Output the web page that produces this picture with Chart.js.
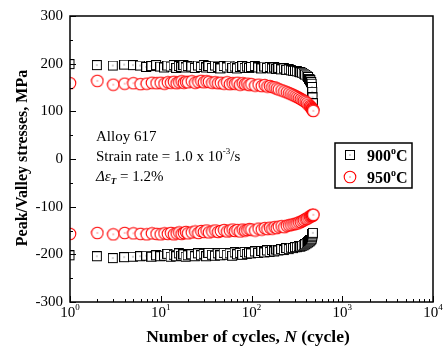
<!DOCTYPE html>
<html>
<head>
<meta charset="utf-8">
<script src="https://cdn.jsdelivr.net/npm/chart.js@4/dist/chart.umd.min.js"></script>
<style>
  html, body { margin: 0; padding: 0; background: #fff; }
  #chart { display: block; }
</style>
</head>
<body>
<canvas id="chart" width="447" height="351"></canvas>
<script>
// cycle numbers at which peak / valley stresses are plotted
const cycles = [1, 2, 3, 4, 5, 6, 7, 8, 9, 10,
  11, 12, 13, 14, 15, 16, 17, 18, 19, 20,
  22, 24, 26, 28, 30, 32, 34, 37, 40, 43,
  46, 50, 54, 58, 62, 66, 70, 75, 80, 85,
  90, 95, 100, 110, 120, 130, 140, 150, 160, 170,
  180, 190, 200, 215, 230, 245, 260, 275, 290, 305,
  320, 335, 350, 365, 380, 395, 410, 425, 440, 450,
  460, 465, 470, 473, 476, 480];

// 900 C peak (max) stress, MPa
const peak900 = [198, 196, 195, 197, 196, 195, 192, 194, 196, 193,
  191, 195, 193, 196, 190, 194, 192, 196, 191, 194,
  193, 190, 195, 192, 196, 191, 194, 190, 195, 192,
  189, 194, 191, 195, 190, 193, 189, 192, 194, 190,
  193, 190, 192, 194, 191, 189, 193, 190, 192, 189,
  191, 188, 190, 187, 189, 186, 187, 185, 184, 184,
  183, 182, 181, 180, 178, 176, 174, 171, 167, 164,
  160, 157, 150, 140, 128, 116];

// 900 C valley (min) stress, MPa
const valley900 = [-203, -205, -209, -207, -206, -205, -204, -206, -203, -205,
  -204, -200, -206, -202, -205, -199, -204, -201, -206, -203,
  -201, -205, -199, -203, -200, -205, -198, -202, -204, -199,
  -203, -198, -202, -199, -204, -197, -201, -198, -202, -196,
  -200, -197, -199, -195, -198, -194, -197, -193, -196, -192,
  -195, -191, -193, -190, -192, -188, -190, -187, -188, -186,
  -186, -184, -185, -183, -182, -180, -178, -176, -174, -172,
  -170, -168, -165, -162, -159, -156];

// 950 C peak (max) stress, MPa
const peak950 = [159, 164, 156, 158, 159, 157, 158, 160, 159, 160,
  158, 161, 160, 162, 159, 161, 163, 160, 162, 161,
  163, 160, 162, 164, 161, 163, 162, 160, 161, 159,
  160, 158, 161, 157, 159, 158, 160, 156, 159, 157,
  158, 155, 157, 154, 156, 153, 155, 152, 153, 151,
  150, 148, 146, 144, 142, 140, 138, 136, 134, 132,
  130, 128, 126, 124, 122, 120, 117, 114, 111, 109,
  107, 105, 104, 103, 102, 101];

// 950 C valley (min) stress, MPa
const valley950 = [-157, -155, -158, -155, -156, -157, -158, -156, -157, -158,
  -156, -157, -155, -158, -156, -154, -157, -155, -153, -156,
  -154, -152, -155, -151, -153, -150, -154, -152, -150, -153,
  -151, -149, -152, -150, -148, -151, -149, -152, -148, -150,
  -149, -147, -148, -150, -146, -148, -145, -147, -144, -146,
  -143, -145, -142, -141, -143, -140, -139, -138, -137, -136,
  -135, -133, -132, -130, -128, -126, -125, -123, -121, -120,
  -119, -119, -118, -118, -117, -117];

const yTicks = [-300, -200, -100, 0, 100, 200, 300];
const xDecades = [0, 1, 2, 3, 4];

const serif = '"Liberation Serif", "Times New Roman", serif';

// marker images: open square / open circle with a centre dot
function squareMarker() {
  const c = document.createElement("canvas");
  c.width = 11; c.height = 11;
  const g = c.getContext("2d");
  g.fillStyle = "#fff";
  g.fillRect(0, 0, 10, 10);
  g.strokeStyle = "#000";
  g.lineWidth = 1;
  g.strokeRect(0.5, 0.5, 9, 9);
  g.fillStyle = "#444";
  g.fillRect(4.5, 4.5, 1, 1);
  return c;
}
function circleMarker() {
  const c = document.createElement("canvas");
  c.width = 14; c.height = 14;
  const g = c.getContext("2d");
  g.beginPath();
  g.arc(7, 7, 5.8, 0, Math.PI * 2);
  g.fillStyle = "#fff";
  g.fill();
  g.strokeStyle = "#ff0000";
  g.lineWidth = 1.1;
  g.stroke();
  g.fillStyle = "#ff0000";
  g.fillRect(6.5, 6.5, 1, 1);
  return c;
}
const sq = squareMarker();
const ci = circleMarker();

function toPoints(ys) {
  return cycles.map((c, i) => ({ x: c, y: ys[i] }));
}

// draw a run of text pieces [text, font, dy] starting at x
function drawRuns(ctx, runs, x, y) {
  runs.forEach((r) => {
    ctx.font = r[1];
    ctx.fillText(r[0], x, y + (r[2] || 0));
    x += ctx.measureText(r[0]).width;
  });
  return x;
}
function runsWidth(ctx, runs) {
  let w = 0;
  runs.forEach((r) => {
    ctx.font = r[1];
    w += ctx.measureText(r[0]).width;
  });
  return w;
}

const decorPlugin = {
  id: "decor",
  afterDraw(chart) {
    const { ctx, chartArea: a, scales } = chart;
    const x = scales.x, y = scales.y;
    ctx.save();
    ctx.strokeStyle = "#000";
    ctx.fillStyle = "#000";

    // frame
    ctx.lineWidth = 1.5;
    ctx.strokeRect(a.left, a.top, a.right - a.left, a.bottom - a.top);

    // y ticks (inward)
    ctx.lineWidth = 1;
    ctx.beginPath();
    yTicks.forEach((v) => {
      const py = Math.round(y.getPixelForValue(v)) + 0.5;
      ctx.moveTo(a.left, py); ctx.lineTo(a.left + 6, py);
      if (v < 300) {
        const pm = Math.round(y.getPixelForValue(v + 50)) + 0.5;
        ctx.moveTo(a.left, pm); ctx.lineTo(a.left + 3, pm);
      }
    });
    // x ticks (inward)
    xDecades.forEach((d) => {
      const px = Math.round(x.getPixelForValue(Math.pow(10, d))) + 0.5;
      ctx.moveTo(px, a.bottom); ctx.lineTo(px, a.bottom - 6);
      if (d < 4) {
        for (let m = 2; m <= 9; m++) {
          const pm = Math.round(x.getPixelForValue(m * Math.pow(10, d))) + 0.5;
          ctx.moveTo(pm, a.bottom); ctx.lineTo(pm, a.bottom - 3);
        }
      }
    });
    ctx.stroke();

    // x tick labels 10^n
    ctx.textBaseline = "alphabetic";
    ctx.textAlign = "left";
    xDecades.forEach((d) => {
      const runs = [["10", "15px " + serif], [String(d), "9px " + serif, -7]];
      const w = runsWidth(ctx, runs);
      const px = x.getPixelForValue(Math.pow(10, d));
      drawRuns(ctx, runs, px - w / 2, 317);
    });

    // x title
    const xt = [
      ["Number of cycles, ", "bold 17.5px " + serif],
      ["N", "italic bold 17.5px " + serif],
      [" (cycle)", "bold 17.5px " + serif]
    ];
    drawRuns(ctx, xt, 248 - runsWidth(ctx, xt) / 2, 342);

    // y title
    ctx.save();
    ctx.translate(27, 158);
    ctx.rotate(-Math.PI / 2);
    ctx.font = "bold 16px " + serif;
    ctx.textAlign = "center";
    ctx.fillText("Peak/Valley stresses, MPa", 0, 0);
    ctx.restore();

    // annotation
    ctx.textAlign = "left";
    drawRuns(ctx, [["Alloy 617", "15px " + serif]], 96, 141);
    drawRuns(ctx, [
      ["Strain rate = 1.0 x 10", "15px " + serif],
      ["-3", "9px " + serif, -7],
      ["/s", "15px " + serif]
    ], 96, 161);
    drawRuns(ctx, [
      ["\u0394\u03b5", "italic 15px " + serif],
      ["T", "italic bold 9px " + serif, 3],
      [" = 1.2%", "15px " + serif]
    ], 96, 181);

    // legend
    ctx.lineWidth = 1.5;
    ctx.strokeRect(335, 143, 77, 45);
    ctx.drawImage(sq, 345, 150);
    ctx.drawImage(ci, 343, 170);
    const lbl = (t) => [
      [t, "bold 16px " + serif],
      ["o", "bold 10px " + serif, -7],
      ["C", "bold 16px " + serif]
    ];
    drawRuns(ctx, lbl("900"), 367, 161);
    drawRuns(ctx, lbl("950"), 367, 183);

    ctx.restore();
  }
};

new Chart(document.getElementById("chart"), {
  type: "scatter",
  data: {
    datasets: [
      { label: "950 peak", data: toPoints(peak950), pointStyle: ci },
      { label: "950 valley", data: toPoints(valley950), pointStyle: ci },
      { label: "900 peak", data: toPoints(peak900), pointStyle: sq },
      { label: "900 valley", data: toPoints(valley900), pointStyle: sq }
    ]
  },
  options: {
    responsive: false,
    animation: false,
    devicePixelRatio: 1,
    layout: { padding: { top: 10, right: 14, left: 0, bottom: 0 } },
    plugins: { legend: { display: false }, tooltip: { enabled: false } },
    scales: {
      x: {
        type: "logarithmic",
        min: 1,
        max: 10000,
        grid: { display: false },
        border: { display: false },
        ticks: { display: false },
        afterFit: (s) => { s.height = 49; }
      },
      y: {
        min: -300,
        max: 300,
        grid: { display: false, drawTicks: false },
        border: { display: false },
        afterBuildTicks: (s) => { s.ticks = yTicks.map((v) => ({ value: v })); },
        ticks: {
          padding: 7,
          color: "#000",
          font: { family: serif, size: 15 },
          callback: (v) => String(v)
        },
        afterFit: (s) => { s.width = 70; }
      }
    }
  },
  plugins: [decorPlugin]
});
</script>
</body>
</html>
